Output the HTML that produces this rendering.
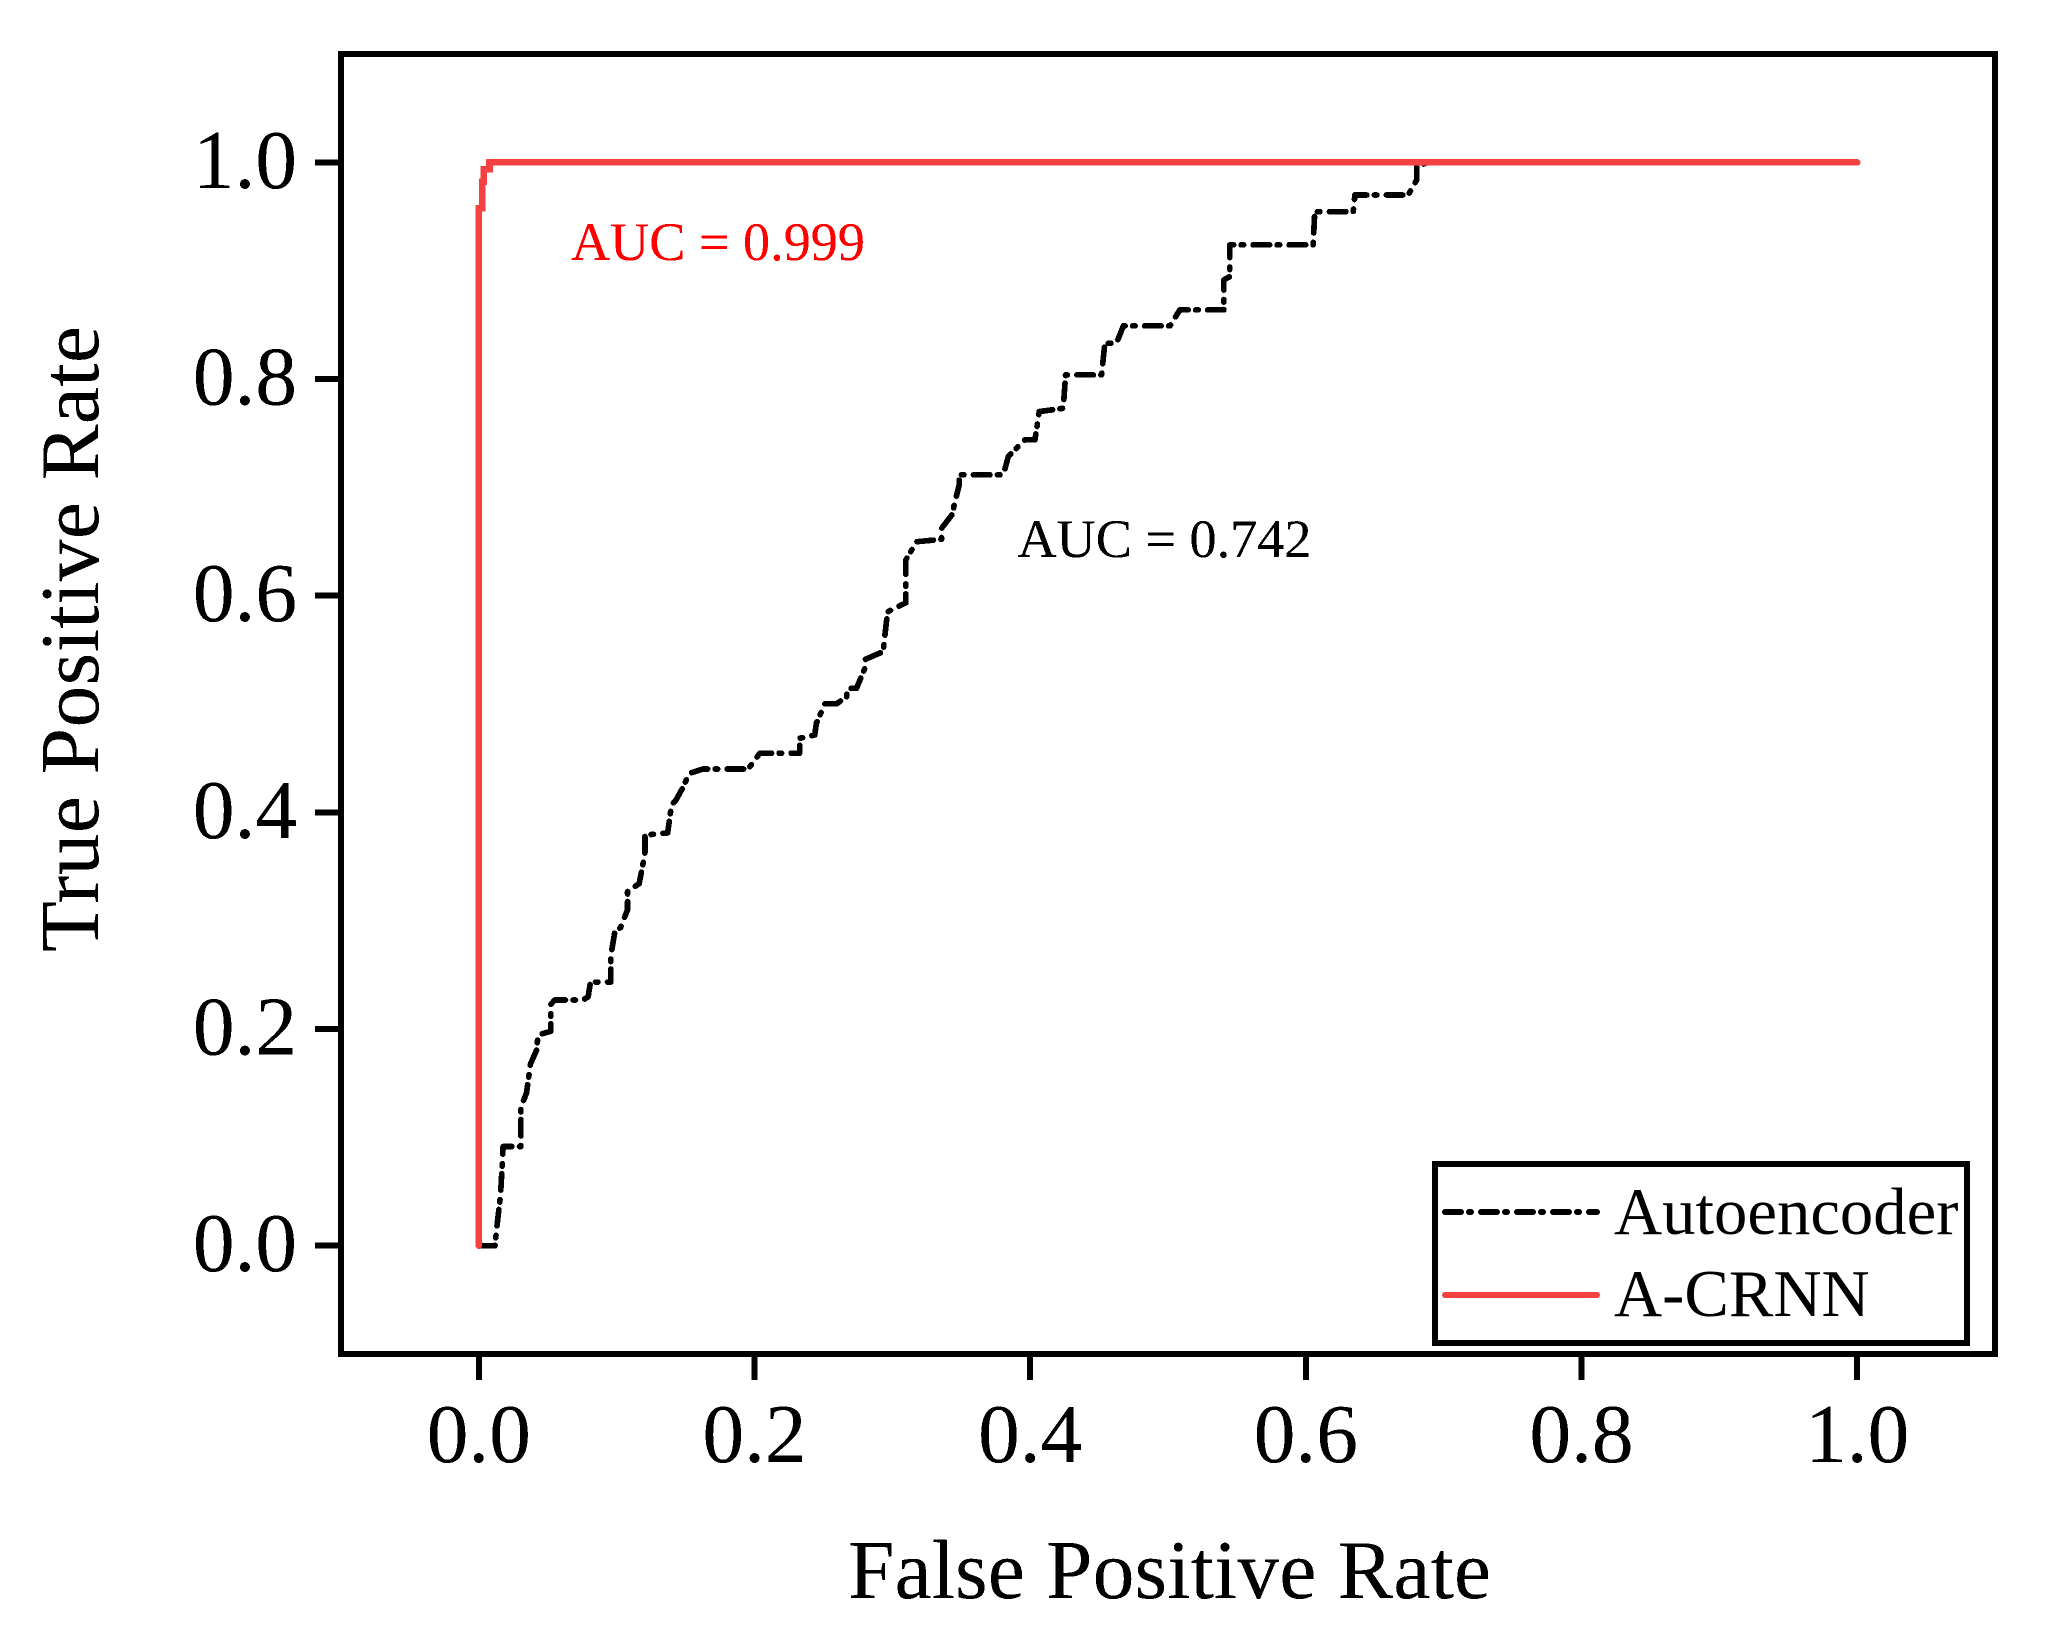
<!DOCTYPE html>
<html lang="en">
<head>
<meta charset="utf-8">
<title>ROC curves: Autoencoder vs A-CRNN</title>
<style>
html,body{margin:0;padding:0;width:2050px;height:1630px;background:#fff;overflow:hidden}
svg{display:block}
text{font-family:"Liberation Serif","Times New Roman",serif;fill:#000}
</style>
</head>
<body>
<svg id="chart" xmlns="http://www.w3.org/2000/svg" width="2050" height="1630" viewBox="0 0 2050 1630">
  <defs>
    <filter id="crisp" filterUnits="userSpaceOnUse" x="0" y="0" width="2050" height="1630" color-interpolation-filters="sRGB">
      <feComponentTransfer>
        <feFuncA type="discrete" tableValues="0 1 1"/>
      </feComponentTransfer>
    </filter>
  </defs>
  <rect x="0" y="0" width="2050" height="1630" fill="#fff"/>
  <g filter="url(#crisp)">
    <g id="series"></g>
    <rect id="frame" fill="none" stroke="#000" stroke-width="6" shape-rendering="crispEdges"/>
    <g id="ticks"></g>
    <text x="1169.5" y="1598" font-size="83.3" text-anchor="middle" textLength="643">False Positive Rate</text>
    <text transform="translate(98 639) rotate(-90)" font-size="83.3" text-anchor="middle" textLength="626">True Positive Rate</text>
    <text x="571" y="260" font-size="54.2" style="fill:#ff0000">AUC = 0.999</text>
    <text x="1017.5" y="557" font-size="54.2">AUC = 0.742</text>
    <g>
      <rect x="1435" y="1164" width="532" height="179" fill="#fff" stroke="#000" stroke-width="6" shape-rendering="crispEdges"/>
      <line x1="1445" y1="1212" x2="1597" y2="1212" stroke="#000" stroke-width="6" stroke-linecap="round" stroke-dasharray="16 8 2 10"/>
      <text x="1614" y="1234" font-size="66.7">Autoencoder</text>
      <line x1="1445" y1="1295" x2="1597" y2="1295" stroke="#f44242" stroke-width="6" stroke-linecap="round"/>
      <text x="1614" y="1316" font-size="66.7">A-CRNN</text>
    </g>
  </g>
</svg>
<script>
var xTickLabels = ["0.0","0.2","0.4","0.6","0.8","1.0"];
var yTickLabels = ["0.0","0.2","0.4","0.6","0.8","1.0"];
var autoencoderFpr = [0,0.0117,0.0129,0.0157,0.0171,0.0176,0.0305,0.0305,0.0305,0.0346,0.0375,0.0418,0.043,0.0522,0.0522,0.0551,0.0757,0.0793,0.081,0.0958,0.0958,0.0986,0.1028,0.1079,0.1079,0.1163,0.1205,0.1205,0.137,0.1398,0.1429,0.1483,0.1526,0.1627,0.1954,0.2039,0.2328,0.2328,0.2437,0.2449,0.251,0.2595,0.2668,0.2675,0.274,0.2805,0.2805,0.2933,0.2957,0.2969,0.3098,0.3098,0.3176,0.3357,0.3357,0.3441,0.3446,0.3485,0.3485,0.3805,0.3841,0.3888,0.3961,0.4035,0.4066,0.424,0.4257,0.4518,0.4542,0.4626,0.4676,0.5014,0.5086,0.5405,0.5405,0.5448,0.5448,0.6053,0.6065,0.6344,0.6356,0.6743,0.6804,0.6804,0.6887,1];
var autoencoderTpr = [0,0,0.0153,0.0462,0.0771,0.0915,0.0915,0.1175,0.1278,0.141,0.1678,0.1802,0.1946,0.1979,0.2227,0.2268,0.2268,0.2297,0.2433,0.2433,0.2676,0.2895,0.2936,0.3101,0.3274,0.334,0.3616,0.379,0.381,0.407,0.4111,0.4235,0.4359,0.44,0.44,0.4546,0.4546,0.4684,0.4714,0.4822,0.5001,0.5001,0.5067,0.5145,0.5145,0.5344,0.5413,0.5483,0.576,0.5852,0.5935,0.633,0.6498,0.652,0.6622,0.6761,0.6822,0.7022,0.7115,0.7115,0.7283,0.7345,0.7438,0.7438,0.7699,0.773,0.8038,0.8038,0.833,0.833,0.849,0.849,0.8638,0.8638,0.8915,0.8945,0.9238,0.9238,0.9545,0.9545,0.9699,0.9699,0.9838,0.9961,1,1];
var crnnFpr = [0,0,0.0025,0.0025,0.0036,0.0036,0.0078,0.0078,1];
var crnnTpr = [0,0.9576,0.9576,0.9822,0.9822,0.9936,0.9936,1,1];

var NS = "http://www.w3.org/2000/svg";
var plotLeft = 341, plotRight = 1995, plotTop = 54, plotBottom = 1354;
var xMin = -0.1, xMax = 1.1, yMin = -0.1, yMax = 1.1;
function xScale(v){ return plotLeft + (v - xMin) / (xMax - xMin) * (plotRight - plotLeft); }
function yScale(v){ return plotBottom - (v - yMin) / (yMax - yMin) * (plotBottom - plotTop); }
function pathFrom(xs, ys){
  return xs.map(function(x, i){ return (i ? "L" : "M") + xScale(x).toFixed(2) + " " + yScale(ys[i]).toFixed(2); }).join(" ");
}

var frame = document.getElementById("frame");
frame.setAttribute("x", plotLeft);
frame.setAttribute("y", plotTop);
frame.setAttribute("width", plotRight - plotLeft);
frame.setAttribute("height", plotBottom - plotTop);

var seriesLayer = document.getElementById("series");
var aePath = document.createElementNS(NS, "path");


aePath.setAttribute("d", pathFrom(autoencoderFpr, autoencoderTpr));
aePath.setAttribute("fill", "none");
aePath.setAttribute("stroke", "#000");
aePath.setAttribute("stroke-width", "5.5");
aePath.setAttribute("stroke-linecap", "round");
aePath.setAttribute("stroke-linejoin", "round");
aePath.setAttribute("stroke-dasharray", "16.5 7.5 2.5 9.5");
seriesLayer.appendChild(aePath);

var crnnPath = document.createElementNS(NS, "path");


crnnPath.setAttribute("d", pathFrom(crnnFpr, crnnTpr));
crnnPath.setAttribute("fill", "none");
crnnPath.setAttribute("stroke", "#f44242");
crnnPath.setAttribute("stroke-width", "6.5");
crnnPath.setAttribute("stroke-linecap", "round");
crnnPath.setAttribute("stroke-linejoin", "miter");
seriesLayer.appendChild(crnnPath);

var tickLayer = document.getElementById("ticks");
var tickLength = 23;
xTickLabels.forEach(function(label){
  var px = xScale(parseFloat(label));
  var t = document.createElementNS(NS, "line");
  
  
  t.setAttribute("x1", px);
  t.setAttribute("x2", px);
  t.setAttribute("y1", plotBottom + 3);
  t.setAttribute("y2", plotBottom + 3 + tickLength);
  t.setAttribute("stroke", "#000");
  t.setAttribute("stroke-width", "6");
  tickLayer.appendChild(t);
  var txt = document.createElementNS(NS, "text");
  
  
  txt.setAttribute("x", px);
  txt.setAttribute("y", plotBottom + 108);
  txt.setAttribute("font-size", "83.3");
  txt.setAttribute("text-anchor", "middle");
  txt.textContent = label;
  tickLayer.appendChild(txt);
});
yTickLabels.forEach(function(label){
  var py = yScale(parseFloat(label));
  var t = document.createElementNS(NS, "line");
  
  
  t.setAttribute("x1", plotLeft - 3 - tickLength);
  t.setAttribute("x2", plotLeft - 3);
  t.setAttribute("y1", py);
  t.setAttribute("y2", py);
  t.setAttribute("stroke", "#000");
  t.setAttribute("stroke-width", "6");
  tickLayer.appendChild(t);
  var txt = document.createElementNS(NS, "text");
  
  
  txt.setAttribute("x", 297);
  txt.setAttribute("y", py + 25.5);
  txt.setAttribute("font-size", "83.3");
  txt.setAttribute("text-anchor", "end");
  txt.textContent = label;
  tickLayer.appendChild(txt);
});
</script>
</body>
</html>
